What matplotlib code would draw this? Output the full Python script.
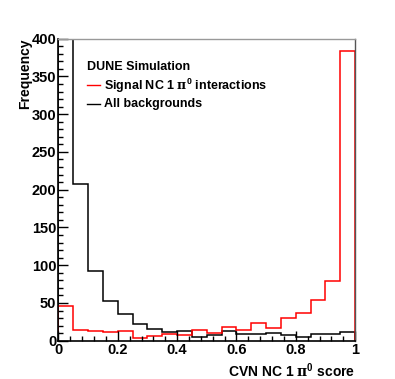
import numpy as np
import matplotlib
matplotlib.use("Agg")
import matplotlib.pyplot as plt
from matplotlib.ticker import MultipleLocator

plt.rcParams['font.family'] = ['Liberation Sans', 'DejaVu Sans']
plt.rcParams['font.weight'] = 'bold'
plt.rcParams['mathtext.fontset'] = 'custom'
plt.rcParams['mathtext.rm'] = 'DejaVu Serif'
plt.rcParams['mathtext.it'] = 'DejaVu Serif'
plt.rcParams['mathtext.bf'] = 'Liberation Sans:bold'

# bin edges of the CVN score histogram (20 bins)
edges = np.linspace(0, 1, 21)
# signal NC 1 pi0
signal = [46.5, 13.7, 13, 12, 13, 4, 6, 9, 8, 14.5,
          9.8, 18.3, 13.8, 23, 16.5, 30, 36.5, 54, 79.5, 384]
# all backgrounds (first bin is off the scale)
background = [1500, 207.5, 92, 53, 35, 22, 15.6, 11, 13, 5.3,
              7.6, 12.4, 9.3, 8.4, 9.8, 7.6, 5.3, 8.4, 8.4, 11.1]

pi0 = r'$\mathrm{\pi}^{\mathbf{0}}$'

fig = plt.figure(figsize=(3.95, 3.79), dpi=100)
ax = fig.add_axes([0.148, 0.101, 0.751, 0.797])

ax.stairs(background, edges, baseline=0, color='black', lw=1.1)
ax.stairs(signal, edges, baseline=0, color='#ff0000', lw=1.1)

ax.set_xlim(0, 1)
ax.set_ylim(0, 400)

ax.xaxis.set_major_locator(MultipleLocator(0.2))
ax.xaxis.set_minor_locator(MultipleLocator(0.04))
ax.yaxis.set_major_locator(MultipleLocator(50))
ax.yaxis.set_minor_locator(MultipleLocator(10))
ax.tick_params(which='both', direction='in', top=False, right=False,
               labelsize=10.5, width=1.0, pad=1.5)
ax.tick_params(which='major', length=7)
ax.tick_params(which='minor', length=3.5)
ax.set_xticks([0, 0.2, 0.4, 0.6, 0.8, 1.0])
ax.set_xticklabels(['0', '0.2', '0.4', '0.6', '0.8', '1'])
for lab in ax.get_xticklabels() + ax.get_yticklabels():
    lab.set_fontweight('bold')

for s in ['left', 'bottom']:
    ax.spines[s].set_linewidth(1.2)
    ax.spines[s].set_color('black')
ax.spines['top'].set_color('#999999')
ax.spines['right'].set_color('#555555')
ax.spines['top'].set_linewidth(1.0)
ax.spines['right'].set_linewidth(1.0)

ax.set_ylabel('Frequency', fontsize=10, fontweight='bold', loc='top', labelpad=0)
ax.set_xlabel('CVN NC 1 ' + pi0 + ' score', fontsize=10, fontweight='bold',
              loc='right', labelpad=3)

# legend block
ax.text(0.095, 0.907, 'DUNE Simulation', transform=ax.transAxes,
        fontsize=9, fontweight='bold', va='center')
ax.plot([0.095, 0.14], [0.845, 0.845], transform=ax.transAxes, color='#ff0000', lw=1.0)
ax.text(0.154, 0.845, 'Signal NC 1 ' + pi0 + ' interactions', transform=ax.transAxes,
        fontsize=9, fontweight='bold', va='center')
ax.plot([0.095, 0.14], [0.785, 0.785], transform=ax.transAxes, color='black', lw=1.0)
ax.text(0.154, 0.785, 'All backgrounds', transform=ax.transAxes,
        fontsize=9, fontweight='bold', va='center')

fig.savefig('out.png', dpi=100)
